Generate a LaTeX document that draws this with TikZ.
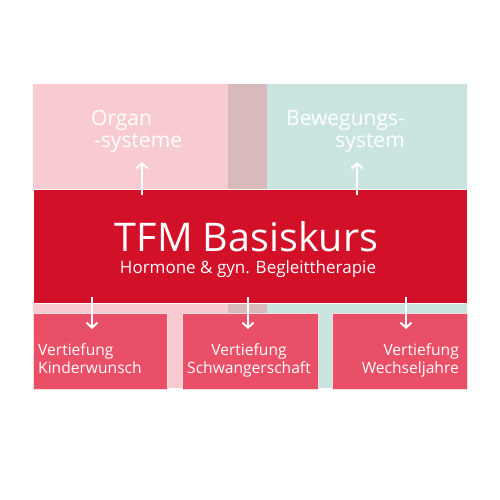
\documentclass[tikz,border=0pt]{standalone}
\usepackage{fontspec}
\setmainfont{Open Sans}
\usetikzlibrary{arrows.meta}
\definecolor{bgpink}{HTML}{F8CBD0}
\definecolor{bgteal}{HTML}{CAE5E0}
\definecolor{bgover}{HTML}{D8B9BC}
\definecolor{mainred}{HTML}{D21129}
\definecolor{boxred}{HTML}{E94F66}
\definecolor{boxline}{HTML}{FADCE0}
\begin{document}
\begin{tikzpicture}[x=1pt,y=-1pt,
  mainbox/.style={fill=mainred, draw=white, line width=1pt, inner sep=0pt, minimum width=434pt, minimum height=114pt},
  subbox/.style={fill=boxred, draw=boxline, line width=1pt, inner sep=0pt, minimum width=134pt, minimum height=76pt},
  toptext/.style={text=white, inner sep=0pt, font=\fontsize{21}{24}\selectfont},
  subtext/.style={text=white, inner sep=0pt, font=\fontsize{15.6}{19}\selectfont},
  arr/.style={draw=white, line width=2pt, -{Straight Barb[length=5pt,width=11pt]}}
]
\useasboundingbox (0,0) rectangle (500,500);
\fill[bgpink] (33,84) rectangle (267,388);
\fill[bgteal] (228,84) rectangle (467,388);
\fill[bgover] (228,84) rectangle (267,388);

\node[mainbox] (main) at (250,246) {};
\node[text=white, inner sep=0pt, anchor=base, font=\fontsize{39.5}{44}\selectfont] (title) at (246.5,251) {TFM Basiskurs};
\node[text=white, inner sep=0pt, anchor=base, font=\fontsize{17}{20}\selectfont] (subtitle) at (248,273) {Hormone \& gyn. Begleittherapie};

\node[toptext, anchor=base west] (organ1) at (91,125) {Organ};
\node[toptext, anchor=base west] (organ2) at (94,147) {-systeme};
\node[toptext, anchor=base east] (bew1) at (405,125) {Bewegungs-};
\node[toptext, anchor=base east] (bew2) at (405,147) {system};

\node[subbox] (k) at (100,351) {};
\node[subbox, minimum width=136pt] (s) at (250,351) {};
\node[subbox, minimum width=135pt] (w) at (399.5,351) {};

\node[subtext, anchor=base west] (k1) at (38,355) {Vertiefung};
\node[subtext, anchor=base west] (k2) at (38,373) {Kinderwunsch};
\node[subtext, anchor=base] (s1) at (249,355) {Vertiefung};
\node[subtext, anchor=base] (s2) at (249,373) {Schwangerschaft};
\node[subtext, anchor=base east] (w1) at (459,355) {Vertiefung};
\node[subtext, anchor=base east] (w2) at (459,373) {Wechseljahre};

\coordinate (u1s) at (142,195);
\coordinate (u1e) at (142,162);
\coordinate (u2s) at (357,195);
\coordinate (u2e) at (357,162);
\coordinate (d1s) at (92,297);
\coordinate (d1e) at (92,329);
\coordinate (d2s) at (248,297);
\coordinate (d2e) at (248,329);
\coordinate (d3s) at (406,297);
\coordinate (d3e) at (406,329);
\draw[arr] (u1s) -- (u1e);
\draw[arr] (u2s) -- (u2e);
\draw[arr] (d1s) -- (d1e);
\draw[arr] (d2s) -- (d2e);
\draw[arr] (d3s) -- (d3e);
\end{tikzpicture}
\end{document}
